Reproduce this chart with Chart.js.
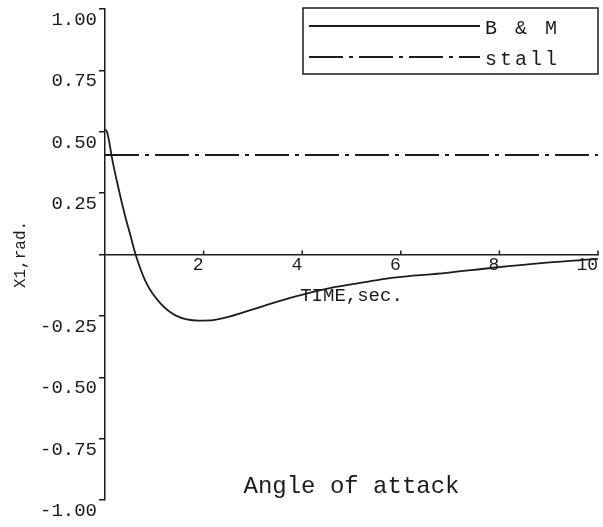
<!DOCTYPE html>
<html>
<head>
<meta charset="utf-8">
<script src="https://cdn.jsdelivr.net/npm/chart.js@4/dist/chart.umd.min.js"></script>
<style>
  html, body { margin: 0; padding: 0; background: #ffffff; }
  #wrap { width: 603px; height: 527px; }
</style>
</head>
<body>
<div id="wrap"><canvas id="c" width="603" height="527"></canvas></div>
<script>
// ---- data ----
const timeSec = [0, 0.04, 0.08, 0.135, 0.25, 0.41, 0.5, 0.62, 0.84, 1.12, 1.45, 1.9, 2.2, 2.54, 3.21, 3.89, 4.56, 5.24, 5.78, 6.93, 7.87, 8.96, 10];
const bmValues = [0.51, 0.50, 0.465, 0.40, 0.29, 0.155, 0.09, 0.0, -0.117, -0.198, -0.25, -0.269, -0.267, -0.252, -0.21, -0.17, -0.137, -0.114, -0.096, -0.075, -0.054, -0.033, -0.018];
const stallTime = [0, 10];
const stallValues = [0.405, 0.405];
const seriesLabels = ['B & M', 'stall'];
const xTickValues = [0, 2, 4, 6, 8, 10];
const yTickValues = [-1, -0.75, -0.5, -0.25, 0, 0.25, 0.5, 0.75, 1];
const xTitle = 'TIME,sec.';
const yTitle = 'X1,rad.';
const chartTitle = 'Angle of attack';

const INK = '#1c1c1c';
const MONO = '"Liberation Mono", "DejaVu Sans Mono", monospace';

const bmPoints = timeSec.map((t, i) => ({ x: t, y: bmValues[i] }));
const stallPoints = stallTime.map((t, i) => ({ x: t, y: stallValues[i] }));

const overlayPlugin = {
  id: 'overlay',
  afterDraw(chart) {
    const ctx = chart.ctx;
    const ca = chart.chartArea;
    const xs = chart.scales.x, ys = chart.scales.y;
    ctx.save();
    // upward tick marks on the x axis
    const y0 = ys.getPixelForValue(0);
    ctx.strokeStyle = INK;
    ctx.lineWidth = 1.5;
    xs.ticks.forEach(tk => {
      if (tk.value === 0) return;
      const px = xs.getPixelForValue(tk.value);
      ctx.beginPath();
      ctx.moveTo(px, y0);
      ctx.lineTo(px, y0 - 4);
      ctx.stroke();
    });
    // legend box
    const bw = 295, bh = 66;
    const bx = ca.right - bw, by = ca.top - 1;
    ctx.lineWidth = 1.5;
    ctx.strokeRect(bx, by, bw, bh);
    chart.data.datasets.forEach((ds, i) => {
      const ry = by + 18 + i * 31;
      ctx.beginPath();
      ctx.setLineDash(ds.borderDash || []);
      ctx.lineWidth = ds.borderWidth;
      ctx.moveTo(bx + 6, ry);
      ctx.lineTo(bx + 177, ry);
      ctx.stroke();
      ctx.setLineDash([]);
      ctx.fillStyle = INK;
      ctx.font = '20px ' + MONO;
      ctx.letterSpacing = '3px';
      ctx.textAlign = 'left';
      ctx.textBaseline = 'alphabetic';
      ctx.fillText(ds.label, bx + 182, ry + 8);
    });
    ctx.letterSpacing = '0px';
    // chart caption inside plot
    ctx.font = '24px ' + MONO;
    ctx.textAlign = 'center';
    ctx.textBaseline = 'alphabetic';
    ctx.fillStyle = INK;
    ctx.fillText(chartTitle, (ca.left + ca.right) / 2, ca.bottom - 7);
    ctx.restore();
  }
};

new Chart(document.getElementById('c'), {
  type: 'line',
  data: {
    datasets: [
      {
        label: seriesLabels[0],
        data: bmPoints,
        borderColor: INK,
        borderWidth: 1.8,
        pointRadius: 0,
        fill: false,
        cubicInterpolationMode: 'monotone'
      },
      {
        label: seriesLabels[1],
        data: stallPoints,
        borderColor: INK,
        borderWidth: 2,
        borderDash: [34, 6, 4, 6],
        pointRadius: 0,
        fill: false
      }
    ]
  },
  options: {
    responsive: false,
    animation: false,
    devicePixelRatio: 1,
    layout: { padding: { left: 0, right: 5, top: 9, bottom: 27 } },
    plugins: {
      legend: { display: false },
      tooltip: { enabled: false },
      title: { display: false }
    },
    scales: {
      x: {
        type: 'linear',
        position: { y: 0 },
        min: xTickValues[0],
        max: xTickValues[xTickValues.length - 1],
        afterBuildTicks: s => { s.ticks = xTickValues.map(v => ({ value: v })); },
        ticks: {
          callback: v => (Math.abs(v) < 1e-9 ? '' : String(v)),
          font: { family: MONO, size: 18 },
          color: INK,
          align: 'end',
          padding: 0,
          maxRotation: 0,
          autoSkip: false
        },
        grid: { display: false, drawTicks: false },
        border: { display: true, color: INK, width: 1.5 },
        title: {
          display: true,
          text: xTitle,
          color: INK,
          font: { family: MONO, size: 19 },
          padding: { top: 8, bottom: 0 }
        },
        afterFit: s => { s.paddingLeft = 0; s.paddingRight = 0; }
      },
      y: {
        type: 'linear',
        min: yTickValues[0],
        max: yTickValues[yTickValues.length - 1],
        afterBuildTicks: s => { s.ticks = yTickValues.map(v => ({ value: v })); },
        ticks: {
          callback: v => (Math.abs(v) < 1e-9 ? '' : v.toFixed(2)),
          font: { family: MONO, size: 19 },
          color: INK,
          labelOffset: 11,
          padding: 2,
          autoSkip: false
        },
        grid: {
          drawOnChartArea: false,
          drawTicks: true,
          tickLength: 6,
          color: INK,
          lineWidth: 1.5
        },
        border: { display: true, color: INK, width: 1.5 },
        title: {
          display: true,
          text: yTitle,
          color: INK,
          font: { family: MONO, size: 16 },
          padding: { top: 11, bottom: 0 }
        },
        afterFit: s => { s.width = 105; s.paddingTop = 0; s.paddingBottom = 0; }
      }
    }
  },
  plugins: [overlayPlugin]
});
</script>
</body>
</html>
